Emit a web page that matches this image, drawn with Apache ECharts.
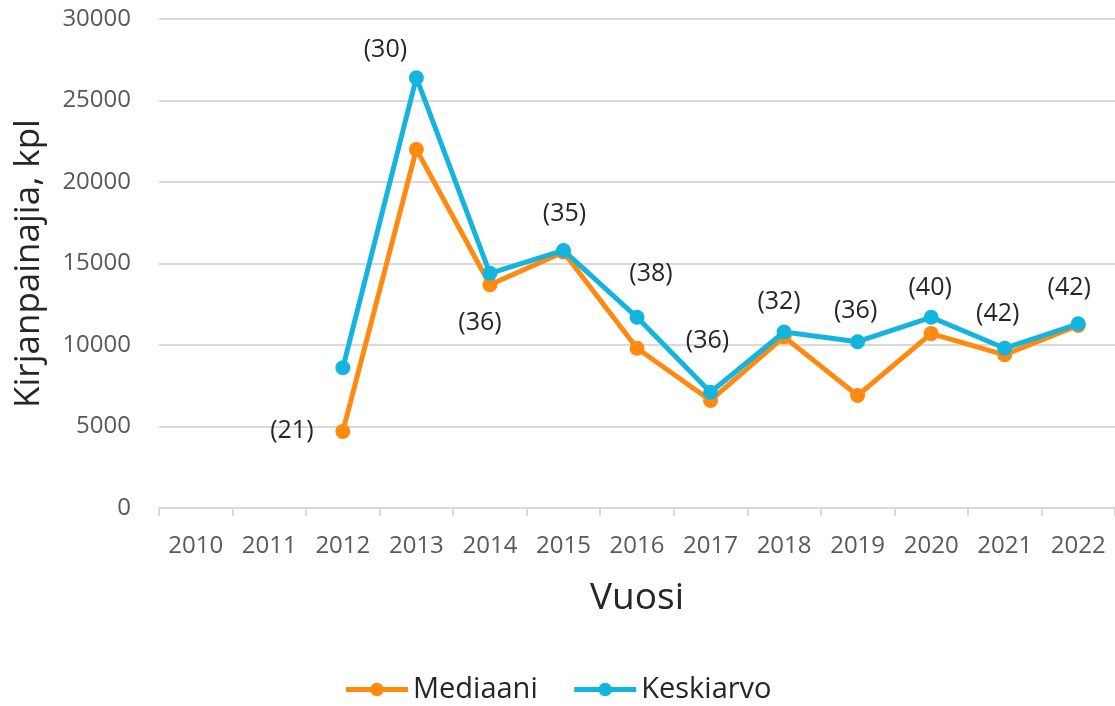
<!DOCTYPE html>
<html>
<head>
    <meta charset="utf-8">
    <script src="https://cdn.jsdelivr.net/npm/echarts@6/dist/echarts.min.js"></script>
    <style>
        html, body { margin: 0; padding: 0; background: #fff; }
    </style>
</head>
<body>
<div id="myChart" style="width: 1115px; height: 706px;"></div>

<script type="text/javascript">
    var chart = echarts.init(document.getElementById('myChart'));

    // vuodet
    var years = ['2010', '2011', '2012', '2013', '2014', '2015', '2016', '2017', '2018', '2019', '2020', '2021', '2022'];
    // kirjanpainajia, kpl
    var mediaani = [null, null, 4700, 22000, 13700, 15700, 9800, 6600, 10500, 6900, 10700, 9400, 11200];
    var keskiarvo = [null, null, 8600, 26400, 14400, 15800, 11700, 7100, 10800, 10200, 11700, 9800, 11300];
    // vastaajien määrä (n)
    var counts = [null, null, 21, 30, 36, 35, 38, 36, 32, 36, 40, 42, 42];
    var yTicks = [0, 5000, 10000, 15000, 20000, 25000, 30000];

    var font = '"Open Sans", "Noto Sans", sans-serif';
    var orange = '#ff8a0f';
    var blue = '#13b5de';

    // label siirrot pisteestä (px), 2012 on mediaani-pisteen vieressä
    var labelOffsets = [null, null, [-51, -1], [-31, -28], [-10, 50], [1, -37], [14, -43], [-3, -51],
        [-5, -30], [-2, -31], [-1, -29], [-7, -34], [-9, -36]];

    function countLabel(i) {
        return {
            show: true,
            position: 'inside',
            offset: labelOffsets[i],
            formatter: '(' + counts[i] + ')',
            color: '#262626',
            fontSize: 25,
            fontFamily: font,
            textBorderWidth: 0,
        };
    }

    var mediaaniData = mediaani.map(function (v, i) {
        var item = {value: v};
        if (i === 2) {
            item.label = countLabel(i);
        }
        return item;
    });

    var keskiarvoData = keskiarvo.map(function (v, i) {
        var item = {value: v};
        if (counts[i] !== null && i !== 2) {
            item.label = countLabel(i);
        }
        return item;
    });

    var option = {
        animation: false,
        backgroundColor: '#fff',
        textStyle: {
            fontFamily: font,
        },
        legend: {
            data: ['Mediaani', 'Keskiarvo'],
            bottom: -3,
            left: 'center',
            itemWidth: 62,
            itemHeight: 17,
            itemGap: 34,
            lineStyle: {
                width: 5,
            },
            textStyle: {
                fontSize: 29,
                color: '#262626',
                fontFamily: font,
            },
        },
        grid: {
            left: 159,
            right: 0,
            top: 19,
            bottom: 198,
        },
        xAxis: {
            type: 'category',
            data: years,
            boundaryGap: true,
            name: 'Vuosi',
            nameLocation: 'middle',
            nameGap: 72,
            nameTextStyle: {
                fontSize: 37,
                color: '#262626',
            },
            axisLine: {
                lineStyle: {
                    color: '#d9d9d9',
                    width: 2,
                },
            },
            axisTick: {
                show: true,
                length: 8,
                lineStyle: {
                    color: '#d9d9d9',
                    width: 2,
                },
            },
            axisLabel: {
                fontSize: 24,
                color: '#595959',
                margin: 26,
            },
        },
        yAxis: {
            type: 'value',
            min: 0,
            max: 30000,
            interval: 5000,
            name: 'Kirjanpainajia, kpl',
            nameLocation: 'middle',
            nameGap: 112,
            nameTextStyle: {
                fontSize: 35,
                color: '#262626',
            },
            axisLine: {show: false},
            axisTick: {show: false},
            splitLine: {
                lineStyle: {
                    color: '#d9d9d9',
                    width: 2,
                },
            },
            axisLabel: {
                fontSize: 24,
                color: '#595959',
                margin: 28,
                formatter: function (v) {
                    return yTicks.indexOf(v) >= 0 ? String(v) : '';
                },
            },
        },
        series: [{
            name: 'Mediaani',
            type: 'line',
            data: mediaaniData,
            symbol: 'circle',
            symbolSize: 15,
            lineStyle: {width: 5, color: orange},
            itemStyle: {color: orange},
            z: 2,
        }, {
            name: 'Keskiarvo',
            type: 'line',
            data: keskiarvoData,
            symbol: 'circle',
            symbolSize: 15,
            lineStyle: {width: 5, color: blue},
            itemStyle: {color: blue},
            z: 3,
        }],
    };

    chart.setOption(option);
</script>
</body>
</html>
